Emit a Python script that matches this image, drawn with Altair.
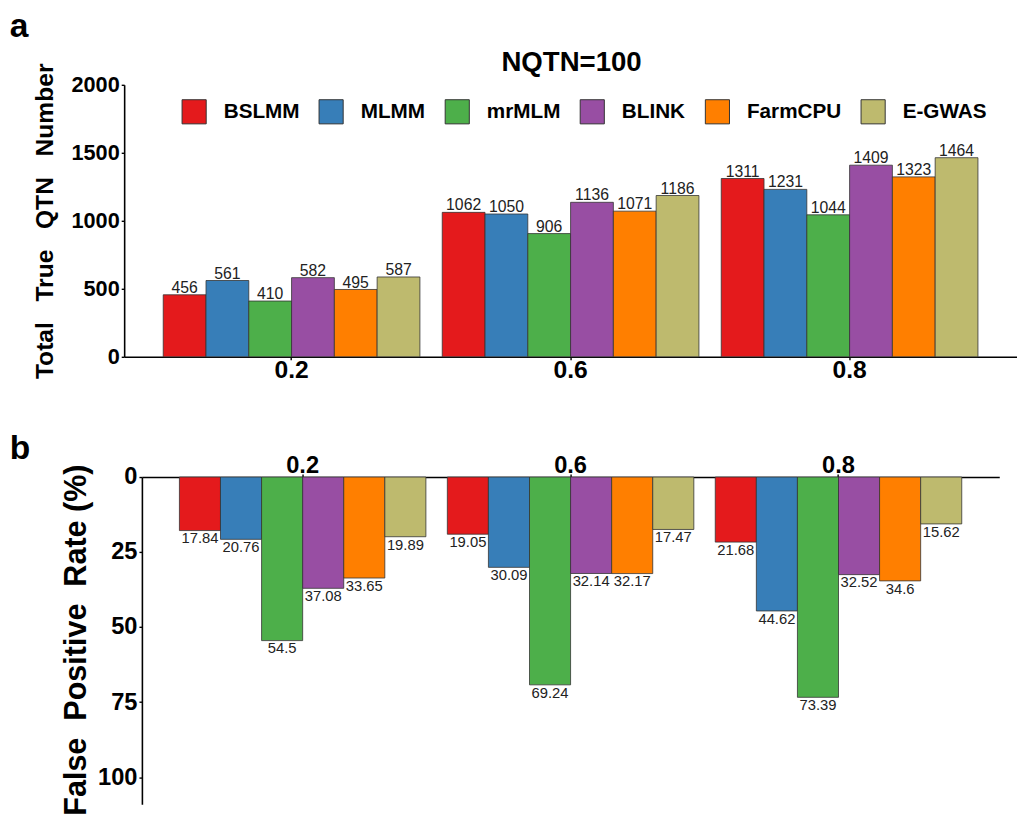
import altair as alt
import pandas as pd

# Methods compared and their fill colours
methods = ["BSLMM", "MLMM", "mrMLM", "BLINK", "FarmCPU", "E-GWAS"]
colors = ["#E41A1C", "#377EB8", "#4DAF4A", "#984EA3", "#FF7F00", "#BEBA6E"]

# Heritability levels (x categories)
heritability = ["0.2", "0.6", "0.8"]

# Total number of true QTN detected, in method order, per heritability level
qtn_h02 = [456, 561, 410, 582, 495, 587]
qtn_h06 = [1062, 1050, 906, 1136, 1071, 1186]
qtn_h08 = [1311, 1231, 1044, 1409, 1323, 1464]

# False positive rate (%), in method order, per heritability level
fpr_h02 = [17.84, 20.76, 54.5, 37.08, 33.65, 19.89]
fpr_h06 = [19.05, 30.09, 69.24, 32.14, 32.17, 17.47]
fpr_h08 = [21.68, 44.62, 73.39, 32.52, 34.6, 15.62]

rows = []
for h, qtn, fpr in zip(heritability, [qtn_h02, qtn_h06, qtn_h08], [fpr_h02, fpr_h06, fpr_h08]):
    for m, q, f in zip(methods, qtn, fpr):
        rows.append({"h": h, "method": m, "qtn": q, "fpr": f,
                     "qtn_label": str(q), "fpr_label": f"{f:g}"})
df = pd.DataFrame(rows)

FONT = "Liberation Sans"
NB = "\u00a0"

color_scale = alt.Scale(domain=methods, range=colors)
band = alt.Scale(paddingInner=0.08, paddingOuter=0.14)
offset_scale = alt.Scale(paddingInner=0, paddingOuter=0)

axis_common = dict(domainColor="black", domainWidth=1.6, tickColor="black",
                   tickWidth=1.4, tickSize=3, labelColor="black",
                   labelFontWeight="bold", grid=False)

# ---------- panel a: total true QTN ----------
W_A, H_A = 906, 276
base_a = alt.Chart(df).encode(
    x=alt.X("h:N", sort=heritability, scale=band,
            axis=alt.Axis(title=None, labelAngle=0, labelFontSize=25,
                          labelBaseline="alphabetic", labelPadding=18, **axis_common)),
    xOffset=alt.XOffset("method:N", sort=methods, scale=offset_scale),
)
bars_a = base_a.mark_bar(stroke="#333333", strokeWidth=0.8).encode(
    y=alt.Y("qtn:Q", scale=alt.Scale(domain=[0, 2000], nice=False),
            axis=alt.Axis(values=[0, 500, 1000, 1500, 2000], format="d",
                          title=f"Total{NB}{NB}{NB}True{NB}{NB}{NB}QTN{NB}{NB}{NB}Number",
                          titleFontSize=25, titleFontWeight="bold", titleColor="black",
                          titleAngle=270, titleX=-81, titleY=H_A / 2,
                          titleAlign="center", titleBaseline="middle",
                          labelFontSize=22, labelPadding=2, **axis_common)),
    color=alt.Color("method:N", sort=methods, scale=color_scale,
                    legend=alt.Legend(title=None, orient="none", legendX=58, legendY=14,
                                      direction="horizontal", columns=6,
                                      symbolType="square", symbolSize=600,
                                      symbolStrokeColor="#333333", symbolStrokeWidth=1,
                                      symbolOpacity=1, labelFontSize=21,
                                      labelFontWeight="bold", labelColor="black",
                                      labelOffset=17, columnPadding=17, padding=0,
                                      labelFont=FONT)),
)
text_a = base_a.mark_text(baseline="alphabetic", dy=-2, fontSize=16,
                          color="#222222", font=FONT).encode(
    y=alt.Y("qtn:Q"), text="qtn_label:N")
tag_a = alt.Chart(pd.DataFrame({"t": ["a"]})).mark_text(
    align="left", baseline="alphabetic", fontSize=34, fontWeight="bold",
    color="black", font=FONT).encode(text="t:N", x=alt.value(-116), y=alt.value(-49))
title_a = alt.Chart(pd.DataFrame({"t": ["NQTN=100"]})).mark_text(
    align="center", baseline="alphabetic", fontSize=28, fontWeight="bold",
    color="black", font=FONT).encode(text="t:N", x=alt.value(W_A / 2 + 1), y=alt.value(-14))

panel_a = alt.layer(bars_a, text_a, tag_a, title_a).properties(width=W_A, height=H_A)

# ---------- panel b: false positive rate ----------
W_B, H_B = 870, 332
base_b = alt.Chart(df).encode(
    x=alt.X("h:N", sort=heritability, scale=band,
            axis=alt.Axis(title=None, orient="top", labelAngle=0, labelFontSize=24,
                          labelBaseline="alphabetic", labelPadding=2, **axis_common)),
    xOffset=alt.XOffset("method:N", sort=methods, scale=offset_scale),
)
bars_b = base_b.mark_bar(stroke="#333333", strokeWidth=0.8).encode(
    y=alt.Y("fpr:Q", scale=alt.Scale(domain=[0, 109], reverse=True, nice=False),
            axis=alt.Axis(values=[0, 25, 50, 75, 100], format="d",
                          title=f"False{NB}{NB}Positive{NB}{NB}Rate (%)",
                          titleFontSize=31, titleFontWeight="bold", titleColor="black",
                          titleAngle=270, titleX=-66, titleY=H_B / 2 - 1,
                          titleAlign="center", titleBaseline="middle",
                          labelFontSize=24, labelPadding=2, **axis_common)),
    color=alt.Color("method:N", sort=methods, scale=color_scale, legend=None),
)
text_b = base_b.mark_text(baseline="top", dy=1, fontSize=15,
                          color="#222222", font=FONT).encode(
    y=alt.Y("fpr:Q"), text="fpr_label:N")
tag_b = alt.Chart(pd.DataFrame({"t": ["b"]})).mark_text(
    align="left", baseline="alphabetic", fontSize=34, fontWeight="bold",
    color="black", font=FONT).encode(text="t:N", x=alt.value(-134), y=alt.value(-18))

panel_b = alt.layer(bars_b, text_b, tag_b).properties(width=W_B, height=H_B)

chart = alt.vconcat(panel_a, panel_b, spacing=122, center=True, bounds="flush").resolve_scale(
    x="independent", y="independent", xOffset="independent", color="shared"
).resolve_legend(color="independent").properties(
    padding={"left": 10, "top": 4, "right": 0, "bottom": 0}
).configure(font=FONT).configure_view(stroke=None)

chart.save("out.html", embed_options={"renderer": "svg", "actions": False})
